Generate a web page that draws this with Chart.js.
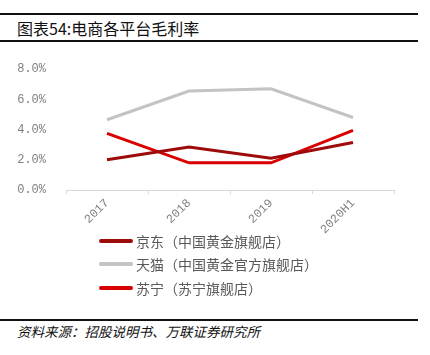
<!DOCTYPE html>
<html>
<head>
<meta charset="utf-8">
<script src="https://cdn.jsdelivr.net/npm/chart.js@4"></script>
<style>
  html, body { margin: 0; padding: 0; background: #fff; }
  #page { position: relative; width: 430px; height: 355px; overflow: hidden; font-family: "Noto Sans CJK SC", sans-serif; }
  .rule { position: absolute; left: 0; width: 418px; height: 2px; background: #111; }
  #title { position: absolute; left: 17px; top: 18px; font-size: 16px; line-height: 20px; color: #111; }
  #source { position: absolute; left: 17px; top: 322px; font-size: 13.5px; line-height: 18px; color: #111; font-style: italic; }
  #chart-wrap { position: absolute; left: 0; top: 50px; width: 430px; height: 190px; }
  #legend { position: absolute; left: 99px; top: 229px; }
  .item { display: flex; align-items: center; height: 23.5px; font-size: 14px; color: #595959; }
  .swatch { width: 34px; height: 4px; border-radius: 2px; margin-right: 3px; }
</style>
</head>
<body>
<div id="page">
  <div class="rule" style="top:13px"></div>
  <div id="title">图表54:电商各平台毛利率</div>
  <div class="rule" style="top:40px"></div>
  <div id="chart-wrap"><canvas id="chart"></canvas></div>
  <div id="legend"></div>
  <div class="rule" style="top:319px"></div>
  <div id="source">资料来源：招股说明书、万联证券研究所</div>
</div>
<script>
// categories and series (gross margin, %)
const categories = ['2017', '2018', '2019', '2020H1']
const jdValues = [2.0, 2.85, 2.1, 3.15]
const tmallValues = [4.65, 6.55, 6.7, 4.8]
const suningValues = [3.75, 1.8, 1.8, 3.95]
const seriesNames = ['京东（中国黄金旗舰店）', '天猫（中国黄金官方旗舰店）', '苏宁（苏宁旗舰店）']
const yTicks = [0, 2, 4, 6, 8]

const colors = ['#9e0b0b', '#c3c3c3', '#d80000']
const tickFont = { family: '"Liberation Mono", monospace', size: 12 }

const datasets = [jdValues, tmallValues, suningValues].map((values, i) => ({
  label: seriesNames[i],
  data: values,
  borderColor: colors[i],
  backgroundColor: colors[i],
  borderWidth: 3,
  pointRadius: 0,
  tension: 0,
  fill: false
}))

const chart = new Chart(document.getElementById('chart'), {
  type: 'line',
  data: { labels: categories, datasets },
  options: {
    responsive: true,
    maintainAspectRatio: false,
    animation: false,
    layout: { padding: { top: 17, right: 36, left: 0, bottom: 0 } },
    plugins: { legend: { display: false }, tooltip: { enabled: false } },
    scales: {
      x: {
        offset: true,
        grid: { display: true, offset: true, drawOnChartArea: false, tickLength: 4, color: '#d9d9d9' },
        border: { display: true, color: '#d9d9d9', width: 1 },
        ticks: { color: '#7f7f7f', font: tickFont, minRotation: 45, maxRotation: 45, padding: 2 },
        afterFit: (scale) => { scale.height = 50 }
      },
      y: {
        min: 0,
        max: 8,
        grid: { display: false },
        border: { display: false },
        afterBuildTicks: (scale) => { scale.ticks = yTicks.map(v => ({ value: v })) },
        ticks: {
          color: '#7f7f7f',
          font: tickFont,
          padding: 12,
          callback: (v) => v.toFixed(1) + '%'
        },
        afterFit: (scale) => { scale.width = 66 }
      }
    }
  }
})

// vertical legend built from the chart's datasets
const legend = document.getElementById('legend')
chart.data.datasets.forEach(ds => {
  const item = document.createElement('div')
  item.className = 'item'
  const sw = document.createElement('span')
  sw.className = 'swatch'
  sw.style.background = ds.borderColor
  const txt = document.createElement('span')
  txt.textContent = ds.label
  item.appendChild(sw)
  item.appendChild(txt)
  legend.appendChild(item)
})
</script>
</body>
</html>
